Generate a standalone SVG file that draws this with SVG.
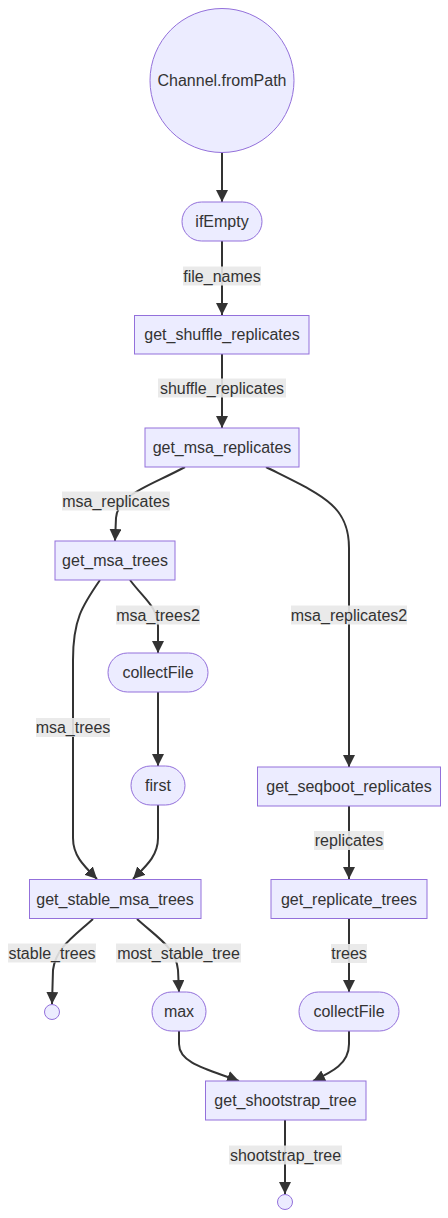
<svg xmlns="http://www.w3.org/2000/svg" width="448" height="1218" viewBox="0 0 448 1218">
<style>
.node rect,.node circle{fill:#ECECFF;stroke:#9370DB;stroke-width:1px}
.node text{font-family:"Liberation Sans",Arial,sans-serif;font-size:16px;fill:#333;text-anchor:middle}
.edge path{fill:none;stroke:#333;stroke-width:2px}
.lbl rect{fill:#e8e8e8;opacity:0.9}
.lbl text{font-family:"Liberation Sans",Arial,sans-serif;font-size:16px;fill:#333;text-anchor:middle}
</style>
<defs>
<marker id="arrow" viewBox="0 0 10 10" refX="10" refY="5" markerUnits="userSpaceOnUse" markerWidth="12" markerHeight="12" orient="auto">
<path d="M0,0 L10,5 L0,10 z" fill="#333"/>
</marker>
</defs>
<g id="connectors">
<g class="edge">
<path d="M222,153 L222,202" marker-end="url(#arrow)"/>
<path d="M222,241 L222,315" marker-end="url(#arrow)"/>
<path d="M222,354 L222,428" marker-end="url(#arrow)"/>
<path d="M185,467 C150,486 118,494 116,518 L115,541" marker-end="url(#arrow)"/>
<path d="M266,467 C322,495 349,505 349,548 L349,767" marker-end="url(#arrow)"/>
<path d="M100,580 C82,606 73,620 73,660 L73,838 C73,856 84,866 97,879" marker-end="url(#arrow)"/>
<path d="M130,580 C145,600 157,606 158,626 L158,653" marker-end="url(#arrow)"/>
<path d="M158,692 L158,766" marker-end="url(#arrow)"/>
<path d="M158,805 L158,838 C158,856 146,866 133,879" marker-end="url(#arrow)"/>
<path d="M349,806 L349,879" marker-end="url(#arrow)"/>
<path d="M349,919 L349,992" marker-end="url(#arrow)"/>
<path d="M93,919 C72,938 56,948 53,970 L52,1004" marker-end="url(#arrow)"/>
<path d="M137,919 C158,938 176,948 178,970 L179,992" marker-end="url(#arrow)"/>
<path d="M179,1031 L179,1044 C179,1064 210,1070 239,1081" marker-end="url(#arrow)"/>
<path d="M349,1031 L349,1044 C349,1064 332,1072 313,1081" marker-end="url(#arrow)"/>
<path d="M285,1120 L285,1194" marker-end="url(#arrow)"/>
</g>
<g class="lbl">
<rect x="183" y="266.5" width="78" height="19"/><text x="222" y="281.5">file_names</text>
<rect x="158" y="378.5" width="128" height="19"/><text x="222" y="393.5">shuffle_replicates</text>
<rect x="62" y="491.5" width="108" height="19"/><text x="116" y="506.5">msa_replicates</text>
<rect x="116" y="605.5" width="84" height="19"/><text x="158" y="620.5">msa_trees2</text>
<rect x="291" y="605.5" width="116" height="19"/><text x="349" y="620.5">msa_replicates2</text>
<rect x="36" y="718" width="74" height="19"/><text x="73" y="733">msa_trees</text>
<rect x="314" y="831" width="70" height="19"/><text x="349" y="846">replicates</text>
<rect x="331" y="944" width="36" height="19"/><text x="349" y="959">trees</text>
<rect x="8" y="943.5" width="88" height="19"/><text x="52" y="958.5">stable_trees</text>
<rect x="116" y="943.5" width="125" height="19"/><text x="178.5" y="958.5">most_stable_tree</text>
<rect x="229" y="1145.5" width="113" height="19"/><text x="285.5" y="1160.5">shootstrap_tree</text>
</g>
</g>
<g id="n_channel" class="node"><circle cx="222" cy="80.5" r="72"/><text x="222" y="86">Channel.fromPath</text></g>
<g id="n_ifEmpty" class="node"><rect x="182" y="202" width="80" height="39" rx="19.5"/><text x="222" y="227">ifEmpty</text></g>
<g id="n_get_shuffle_replicates" class="node"><rect x="134.5" y="315.5" width="174.5" height="38.5"/><text x="222" y="340">get_shuffle_replicates</text></g>
<g id="n_get_msa_replicates" class="node"><rect x="145" y="428" width="154" height="39"/><text x="222" y="453">get_msa_replicates</text></g>
<g id="n_get_msa_trees" class="node"><rect x="55" y="541" width="120" height="39"/><text x="115" y="566">get_msa_trees</text></g>
<g id="n_collectFile1" class="node"><rect x="108" y="653" width="100" height="39" rx="19.5"/><text x="158" y="678">collectFile</text></g>
<g id="n_first" class="node"><rect x="131" y="766" width="54" height="39" rx="19.5"/><text x="158" y="791">first</text></g>
<g id="n_get_seqboot_replicates" class="node"><rect x="257.5" y="767" width="183" height="39"/><text x="349" y="792">get_seqboot_replicates</text></g>
<g id="n_get_stable_msa_trees" class="node"><rect x="29.5" y="879.5" width="171.5" height="39"/><text x="115" y="904.5">get_stable_msa_trees</text></g>
<g id="n_get_replicate_trees" class="node"><rect x="271" y="879.5" width="156" height="39"/><text x="349" y="904.5">get_replicate_trees</text></g>
<g id="n_end1" class="node"><circle cx="52" cy="1012" r="7.5"/></g>
<g id="n_max" class="node"><rect x="152" y="992" width="54" height="39" rx="19.5"/><text x="179" y="1017">max</text></g>
<g id="n_collectFile2" class="node"><rect x="299" y="992" width="100" height="39" rx="19.5"/><text x="349" y="1017">collectFile</text></g>
<g id="n_get_shootstrap_tree" class="node"><rect x="205.5" y="1081" width="160.5" height="39"/><text x="285.5" y="1106">get_shootstrap_tree</text></g>
<g id="n_end2" class="node"><circle cx="285" cy="1202" r="7.5"/></g>
</svg>
